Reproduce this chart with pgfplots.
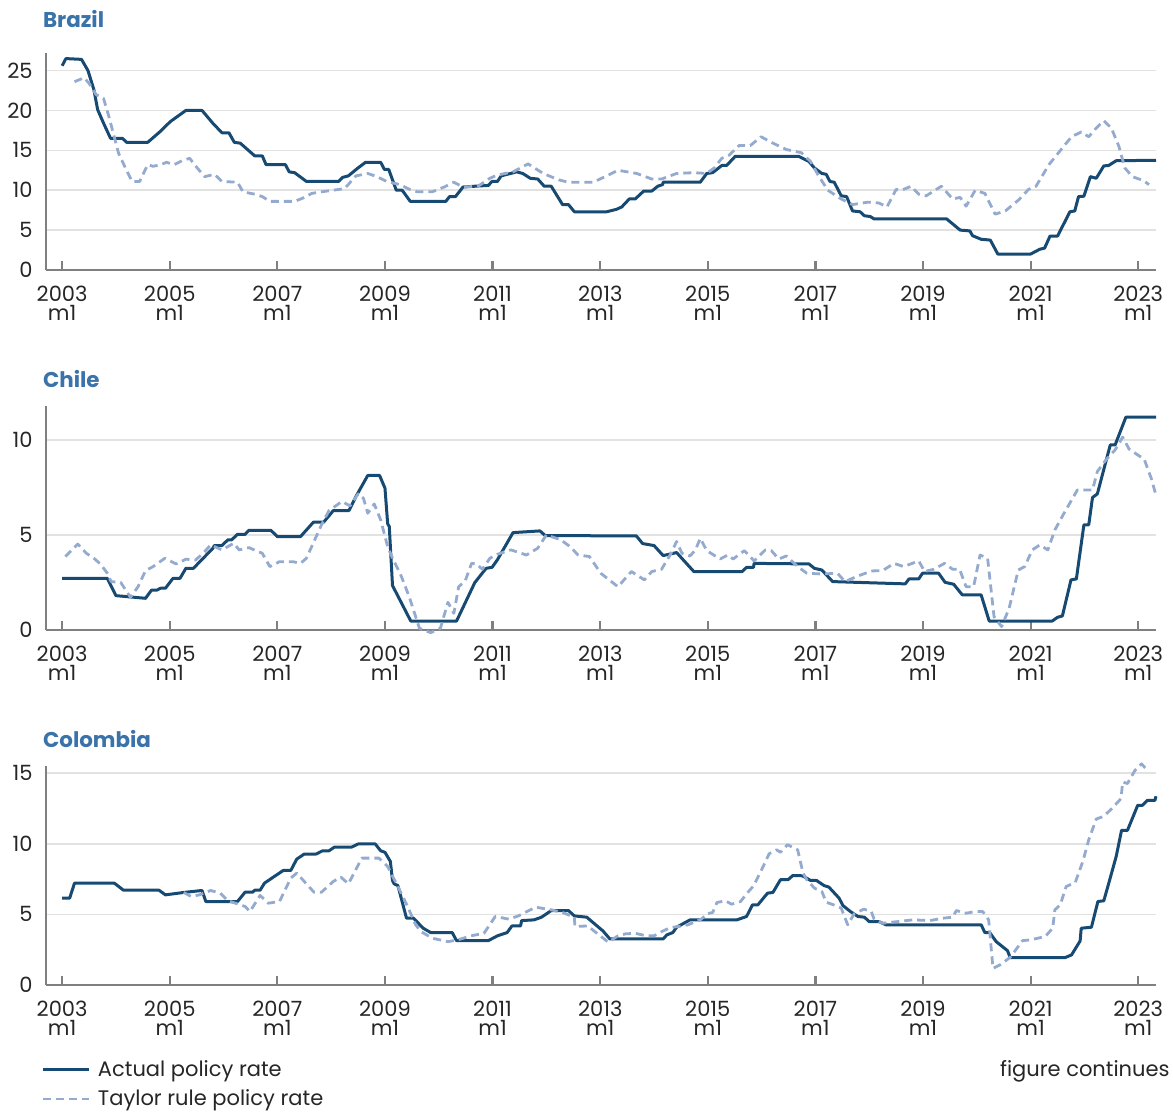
\documentclass[border=0pt]{standalone}
\usepackage{fontspec}
\setmainfont{Poppins}
\usepackage{pgfplots}
\pgfplotsset{compat=1.18}
\definecolor{actual}{HTML}{174A72}
\definecolor{taylor}{HTML}{94AACE}
\definecolor{ttl}{HTML}{3A72AA}
\definecolor{axgrey}{HTML}{808080}
\definecolor{gridgrey}{HTML}{E2E2E2}
\definecolor{txt}{HTML}{262626}
\pgfplotsset{
 panel/.style={
  scale only axis, width=555pt,
  xmin=2002.70, xmax=2023.33, ymin=0,
  axis x line*=bottom, axis y line*=left,
  axis line style={axgrey, line width=1.1pt},
  xtick={2003,2005,2007,2009,2011,2013,2015,2017,2019,2021,2023},
  xticklabels={{2003\\m1},{2005\\m1},{2007\\m1},{2009\\m1},{2011\\m1},{2013\\m1},{2015\\m1},{2017\\m1},{2019\\m1},{2021\\m1},{2023\\m1}},
  x tick label style={align=center, font=\fontsize{10.5}{9.5}\selectfont, yshift=-4.6pt, text=txt},
  y tick label style={font=\fontsize{10.5}{12}\selectfont, xshift=-3.2pt, text=txt},
  yticklabel={\pgfmathprintnumber[assume math mode=true]{\tick}},
  xtick style={axgrey, line width=1.1pt},
  major tick length=4.5pt,
  ytick style={draw=none},
  ymajorgrids, grid style={gridgrey, line width=0.8pt},
  clip=false,
  title style={anchor=base west, at={(rel axis cs:0,1)}, font=\bfseries\fontsize{10.7}{13}\selectfont, text=ttl, xshift=-5pt},
 },
 act/.style={actual, line width=1.5pt, line join=round},
 tay/.style={taylor, line width=1.4pt, dash pattern=on 4pt off 2.5pt, line join=round},
}
\begin{document}
\begin{tikzpicture}
\useasboundingbox (0,0) rectangle (586.5pt,-556pt);
% Brazil
\begin{axis}[panel, at={(23pt,-135pt)}, anchor=south west, height=108.5pt,
  ymax=27.2, ytick={0,5,10,15,20,25}, title={Brazil}, title style={yshift=6.5pt}]
\addplot[act] coordinates {(2003.0,25.6)(2003.07,26.5)(2003.36,26.4)(2003.48,25.0)(2003.59,22.6)(2003.66,20.1)(2003.77,18.4)(2003.9,16.5)(2004.12,16.5)(2004.2,16.0)(2004.59,16.0)(2004.83,17.4)(2005.01,18.6)(2005.3,20.0)(2005.6,20.0)(2005.8,18.4)(2005.97,17.2)(2006.1,17.2)(2006.2,16.0)(2006.31,15.9)(2006.58,14.3)(2006.72,14.3)(2006.79,13.2)(2007.15,13.2)(2007.22,12.3)(2007.32,12.2)(2007.54,11.1)(2007.6,11.1)(2008.14,11.1)(2008.21,11.6)(2008.32,11.8)(2008.5,12.8)(2008.64,13.5)(2008.92,13.5)(2008.99,12.6)(2009.07,12.6)(2009.21,10.0)(2009.32,10.0)(2009.47,8.6)(2010.13,8.6)(2010.2,9.2)(2010.31,9.2)(2010.45,10.4)(2010.67,10.5)(2010.92,10.6)(2010.99,11.1)(2011.09,11.1)(2011.16,11.8)(2011.45,12.3)(2011.56,12.1)(2011.7,11.5)(2011.84,11.4)(2011.96,10.5)(2012.09,10.5)(2012.3,8.2)(2012.41,8.2)(2012.52,7.3)(2013.12,7.3)(2013.3,7.6)(2013.4,7.9)(2013.54,8.9)(2013.65,8.9)(2013.81,9.9)(2013.96,9.9)(2014.07,10.5)(2014.16,10.7)(2014.17,11.0)(2014.86,11.0)(2014.98,12.1)(2015.09,12.2)(2015.26,13.1)(2015.35,13.1)(2015.51,14.25)(2016.69,14.25)(2016.88,13.6)(2016.98,12.8)(2017.12,12.1)(2017.2,12.0)(2017.27,11.1)(2017.35,11.0)(2017.48,9.3)(2017.58,9.2)(2017.69,7.4)(2017.83,7.3)(2017.91,6.8)(2018.02,6.7)(2018.09,6.4)(2019.44,6.4)(2019.69,5.0)(2019.87,4.9)(2019.92,4.3)(2020.08,3.85)(2020.25,3.75)(2020.39,2.0)(2021.0,2.0)(2021.17,2.6)(2021.26,2.75)(2021.36,4.25)(2021.5,4.25)(2021.73,7.3)(2021.82,7.4)(2021.89,9.2)(2021.99,9.25)(2022.11,11.7)(2022.22,11.5)(2022.36,13.05)(2022.45,13.1)(2022.59,13.7)(2023.33,13.75)};
\addplot[tay] coordinates {(2003.23,23.6)(2003.41,24.1)(2003.5,23.4)(2003.63,22.0)(2003.77,21.5)(2003.87,19.2)(2004.05,14.6)(2004.19,12.6)(2004.3,11.1)(2004.44,11.1)(2004.59,13.2)(2004.69,13.0)(2004.83,13.2)(2004.94,13.5)(2005.08,13.2)(2005.23,13.7)(2005.37,14.0)(2005.51,12.8)(2005.65,11.7)(2005.83,12.0)(2005.97,11.1)(2006.26,11.0)(2006.36,9.8)(2006.58,9.5)(2006.72,9.2)(2006.86,8.6)(2007.32,8.6)(2007.47,9.0)(2007.64,9.6)(2007.82,9.8)(2008.25,10.2)(2008.46,11.8)(2008.68,12.1)(2008.85,11.7)(2009.03,11.1)(2009.28,10.7)(2009.46,10.1)(2009.6,9.8)(2009.88,9.8)(2010.1,10.4)(2010.28,11.0)(2010.45,10.4)(2010.73,10.5)(2010.95,11.5)(2011.09,11.9)(2011.38,12.3)(2011.66,13.3)(2011.94,12.1)(2012.23,11.3)(2012.41,11.0)(2012.87,11.0)(2013.12,11.8)(2013.33,12.5)(2013.68,12.1)(2013.96,11.4)(2014.14,11.4)(2014.42,12.1)(2014.74,12.2)(2014.98,12.1)(2015.12,12.8)(2015.26,14.0)(2015.4,14.4)(2015.58,15.6)(2015.79,15.6)(2015.99,16.7)(2016.21,15.9)(2016.46,15.1)(2016.74,14.7)(2016.91,13.6)(2017.05,11.9)(2017.23,10.0)(2017.48,8.9)(2017.69,8.2)(2017.97,8.5)(2018.18,8.4)(2018.33,7.9)(2018.5,10.1)(2018.6,10.0)(2018.78,10.5)(2018.92,9.5)(2019.06,9.3)(2019.34,10.5)(2019.55,8.9)(2019.69,9.1)(2019.8,8.0)(2019.97,10.0)(2020.15,9.6)(2020.34,7.0)(2020.53,7.4)(2020.78,8.8)(2020.96,10.1)(2021.1,10.5)(2021.34,13.2)(2021.59,15.3)(2021.76,16.7)(2021.94,17.3)(2022.08,16.7)(2022.22,17.8)(2022.36,18.7)(2022.5,17.8)(2022.64,15.5)(2022.75,12.8)(2022.89,11.7)(2023.1,11.2)(2023.2,10.7)};
\end{axis}
% Chile
\begin{axis}[panel, at={(23pt,-315pt)}, anchor=south west, height=112pt,
  ymax=11.8, ytick={0,5,10}, title={Chile}, title style={yshift=3.3pt}]
\addplot[act] coordinates {(2003.0,2.72)(2003.84,2.72)(2004.0,1.81)(2004.55,1.67)(2004.66,2.1)(2004.76,2.1)(2004.83,2.2)(2004.92,2.2)(2005.06,2.72)(2005.19,2.72)(2005.3,3.25)(2005.44,3.25)(2005.8,4.3)(2005.83,4.45)(2005.97,4.45)(2006.08,4.75)(2006.15,4.75)(2006.26,5.04)(2006.4,5.04)(2006.47,5.25)(2006.88,5.25)(2007.0,4.92)(2007.43,4.92)(2007.67,5.68)(2007.86,5.68)(2008.04,6.29)(2008.33,6.29)(2008.46,7.03)(2008.68,8.14)(2008.9,8.14)(2009.0,7.47)(2009.05,5.6)(2009.08,5.45)(2009.14,2.34)(2009.48,0.47)(2010.33,0.47)(2010.67,2.5)(2010.88,3.25)(2010.99,3.3)(2011.09,3.7)(2011.38,5.13)(2011.88,5.22)(2011.98,4.97)(2013.67,4.96)(2013.79,4.55)(2014.0,4.45)(2014.17,3.92)(2014.42,4.08)(2014.74,3.08)(2015.64,3.08)(2015.72,3.3)(2015.85,3.3)(2015.86,3.51)(2016.88,3.48)(2016.98,3.25)(2017.12,3.16)(2017.32,2.55)(2018.67,2.43)(2018.74,2.69)(2018.92,2.69)(2018.99,2.99)(2019.29,2.99)(2019.41,2.51)(2019.57,2.41)(2019.73,1.85)(2020.08,1.85)(2020.23,0.47)(2021.4,0.47)(2021.5,0.67)(2021.59,0.74)(2021.75,2.64)(2021.85,2.69)(2021.99,5.54)(2022.08,5.54)(2022.15,6.98)(2022.24,7.17)(2022.48,9.75)(2022.57,9.75)(2022.77,11.21)(2023.33,11.21)};
\addplot[tay] coordinates {(2003.06,3.87)(2003.29,4.53)(2003.45,4.04)(2003.59,3.78)(2003.71,3.48)(2003.84,2.99)(2003.91,2.55)(2004.09,2.5)(2004.27,1.72)(2004.41,2.28)(2004.55,3.13)(2004.69,3.34)(2004.91,3.78)(2005.12,3.48)(2005.3,3.73)(2005.48,3.69)(2005.62,4.04)(2005.76,4.48)(2005.97,4.22)(2006.19,4.57)(2006.29,4.22)(2006.47,4.34)(2006.72,4.04)(2006.86,3.34)(2007.04,3.6)(2007.29,3.6)(2007.43,3.51)(2007.54,3.78)(2007.68,4.66)(2007.82,5.54)(2007.96,6.29)(2008.2,6.77)(2008.35,6.54)(2008.5,7.17)(2008.6,6.94)(2008.68,6.15)(2008.8,6.64)(2008.92,5.8)(2009.05,4.39)(2009.14,3.78)(2009.28,2.99)(2009.35,2.5)(2009.46,1.67)(2009.64,0.09)(2009.85,-0.14)(2010.03,0.09)(2010.17,1.46)(2010.28,0.88)(2010.37,2.28)(2010.49,2.58)(2010.61,3.51)(2010.7,3.48)(2010.81,3.2)(2010.95,3.78)(2011.09,3.99)(2011.34,4.22)(2011.63,3.95)(2011.84,4.31)(2012.0,5.01)(2012.27,4.75)(2012.44,4.39)(2012.59,3.95)(2012.8,3.87)(2013.01,2.99)(2013.33,2.28)(2013.58,3.08)(2013.82,2.64)(2013.96,3.08)(2014.14,3.2)(2014.3,3.95)(2014.42,4.66)(2014.52,4.04)(2014.67,3.9)(2014.77,4.22)(2014.86,4.83)(2014.98,4.18)(2015.23,3.74)(2015.37,3.95)(2015.47,3.74)(2015.68,4.18)(2015.86,3.64)(2016.07,4.22)(2016.18,4.18)(2016.32,3.74)(2016.46,3.9)(2016.67,3.34)(2016.84,2.99)(2017.12,2.95)(2017.41,2.99)(2017.55,2.55)(2017.76,2.81)(2018.04,3.11)(2018.25,3.13)(2018.46,3.51)(2018.64,3.34)(2018.92,3.64)(2019.03,3.08)(2019.2,3.2)(2019.4,3.51)(2019.55,3.2)(2019.68,3.2)(2019.8,2.28)(2019.94,2.28)(2020.06,3.95)(2020.2,3.78)(2020.32,0.7)(2020.46,0.18)(2020.6,1.14)(2020.77,3.16)(2020.89,3.34)(2021.03,4.22)(2021.17,4.48)(2021.32,4.22)(2021.45,5.27)(2021.62,6.15)(2021.87,7.38)(2022.15,7.38)(2022.24,8.35)(2022.4,8.96)(2022.57,9.49)(2022.71,10.16)(2022.83,9.53)(2022.96,9.28)(2023.11,9.0)(2023.24,8.0)(2023.32,7.2)};
\end{axis}
% Colombia
\begin{axis}[panel, at={(23pt,-492.5pt)}, anchor=south west, height=109.5pt,
  ymax=15.5, ytick={0,5,10,15}, title={Colombia}, title style={yshift=3.3pt},
  legend style={draw=none, fill=none, at={(axis description cs:-0.004,-0.329)}, anchor=north west,
    font=\fontsize{10.5}{12}\selectfont, text=txt, row sep=2pt, inner sep=0pt,
    nodes={inner sep=1.5pt},
    /tikz/every odd column/.append style={column sep=2pt}},
  legend cell align=left,
  legend image code/.code={\draw[#1] (0pt,0pt) -- (23pt,0pt);}]
\addplot[act] coordinates {(2003.0,6.15)(2003.14,6.15)(2003.23,7.21)(2003.97,7.21)(2004.14,6.71)(2004.8,6.71)(2004.92,6.38)(2005.26,6.55)(2005.6,6.69)(2005.67,5.91)(2006.26,5.91)(2006.4,6.57)(2006.54,6.57)(2006.58,6.71)(2006.68,6.71)(2006.76,7.21)(2007.11,8.11)(2007.25,8.11)(2007.36,8.91)(2007.5,9.27)(2007.72,9.27)(2007.84,9.5)(2007.96,9.5)(2008.06,9.76)(2008.38,9.76)(2008.5,9.98)(2008.82,9.98)(2008.92,9.5)(2009.0,9.39)(2009.1,8.75)(2009.14,7.4)(2009.17,7.16)(2009.24,7.04)(2009.4,4.73)(2009.53,4.73)(2009.71,4.02)(2009.85,3.71)(2010.25,3.71)(2010.33,3.14)(2010.92,3.14)(2011.09,3.48)(2011.27,3.71)(2011.36,4.18)(2011.52,4.18)(2011.54,4.56)(2011.77,4.61)(2011.91,4.8)(2012.09,5.27)(2012.41,5.27)(2012.52,4.89)(2012.75,4.8)(2013.05,3.83)(2013.18,3.26)(2014.17,3.26)(2014.24,3.55)(2014.35,3.71)(2014.42,4.09)(2014.67,4.61)(2015.54,4.61)(2015.72,4.85)(2015.83,5.67)(2015.93,5.67)(2016.11,6.5)(2016.21,6.55)(2016.35,7.45)(2016.49,7.45)(2016.58,7.75)(2016.76,7.73)(2016.91,7.4)(2017.02,7.4)(2017.16,7.04)(2017.25,6.93)(2017.44,6.15)(2017.51,5.63)(2017.65,5.2)(2017.79,4.85)(2017.91,4.8)(2018.0,4.49)(2018.18,4.49)(2018.31,4.26)(2020.08,4.26)(2020.15,3.71)(2020.24,3.71)(2020.36,3.07)(2020.57,2.43)(2020.62,1.94)(2021.64,1.94)(2021.76,2.13)(2021.92,3.12)(2021.94,4.02)(2022.13,4.09)(2022.25,5.91)(2022.36,5.96)(2022.47,7.45)(2022.59,9.1)(2022.69,10.95)(2022.8,10.95)(2022.99,12.72)(2023.08,12.72)(2023.17,13.07)(2023.31,13.07)(2023.33,13.36)};
\addlegendentry{Actual policy rate}
\addplot[tay] coordinates {(2005.26,6.55)(2005.4,6.26)(2005.55,6.38)(2005.76,6.69)(2005.94,6.5)(2006.08,5.96)(2006.26,5.74)(2006.4,5.56)(2006.49,5.2)(2006.68,6.34)(2006.83,5.79)(2007.04,5.91)(2007.25,7.57)(2007.36,7.92)(2007.5,7.33)(2007.68,6.57)(2007.82,6.57)(2008.04,7.33)(2008.18,7.64)(2008.32,7.16)(2008.57,8.98)(2008.89,8.98)(2009.05,8.39)(2009.24,6.97)(2009.42,5.56)(2009.57,4.26)(2009.67,3.78)(2009.88,3.31)(2010.17,3.07)(2010.35,3.19)(2010.6,3.48)(2010.84,3.66)(2011.05,4.85)(2011.3,4.66)(2011.48,4.89)(2011.8,5.51)(2012.09,5.32)(2012.3,5.13)(2012.52,4.8)(2012.53,4.14)(2012.77,4.18)(2012.94,3.66)(2013.15,3.03)(2013.33,3.48)(2013.47,3.62)(2013.65,3.66)(2013.86,3.48)(2014.0,3.48)(2014.17,3.83)(2014.31,4.07)(2014.45,4.14)(2014.63,4.26)(2014.88,4.66)(2014.98,5.04)(2015.09,5.13)(2015.17,5.84)(2015.33,5.96)(2015.44,5.72)(2015.61,5.91)(2015.72,6.45)(2015.85,7.02)(2016.0,8.16)(2016.14,9.29)(2016.28,9.57)(2016.35,9.39)(2016.48,9.93)(2016.67,9.57)(2016.77,7.92)(2016.84,7.45)(2016.98,6.86)(2017.12,6.62)(2017.2,5.86)(2017.34,5.67)(2017.48,5.44)(2017.6,4.26)(2017.72,5.04)(2017.9,5.37)(2018.04,5.2)(2018.09,4.66)(2018.25,4.37)(2018.53,4.49)(2018.81,4.61)(2019.13,4.56)(2019.37,4.73)(2019.55,4.8)(2019.62,5.27)(2019.8,5.08)(2019.97,5.2)(2020.11,5.2)(2020.22,4.61)(2020.3,1.18)(2020.43,1.42)(2020.62,1.96)(2020.85,3.14)(2020.99,3.19)(2021.27,3.43)(2021.41,4.02)(2021.45,5.32)(2021.55,5.67)(2021.66,6.97)(2021.83,7.26)(2021.97,8.75)(2022.08,10.28)(2022.22,11.75)(2022.36,11.94)(2022.5,12.46)(2022.68,13.19)(2022.71,14.37)(2022.8,14.26)(2022.94,15.2)(2023.06,15.65)(2023.13,15.37)};
\addlegendentry{Taylor rule policy rate}
\end{axis}
\node[anchor=base east, font=\fontsize{10.5}{12}\selectfont, text=txt, inner sep=0pt] at (585pt,-538pt) {figure continues};
\end{tikzpicture}
\end{document}
